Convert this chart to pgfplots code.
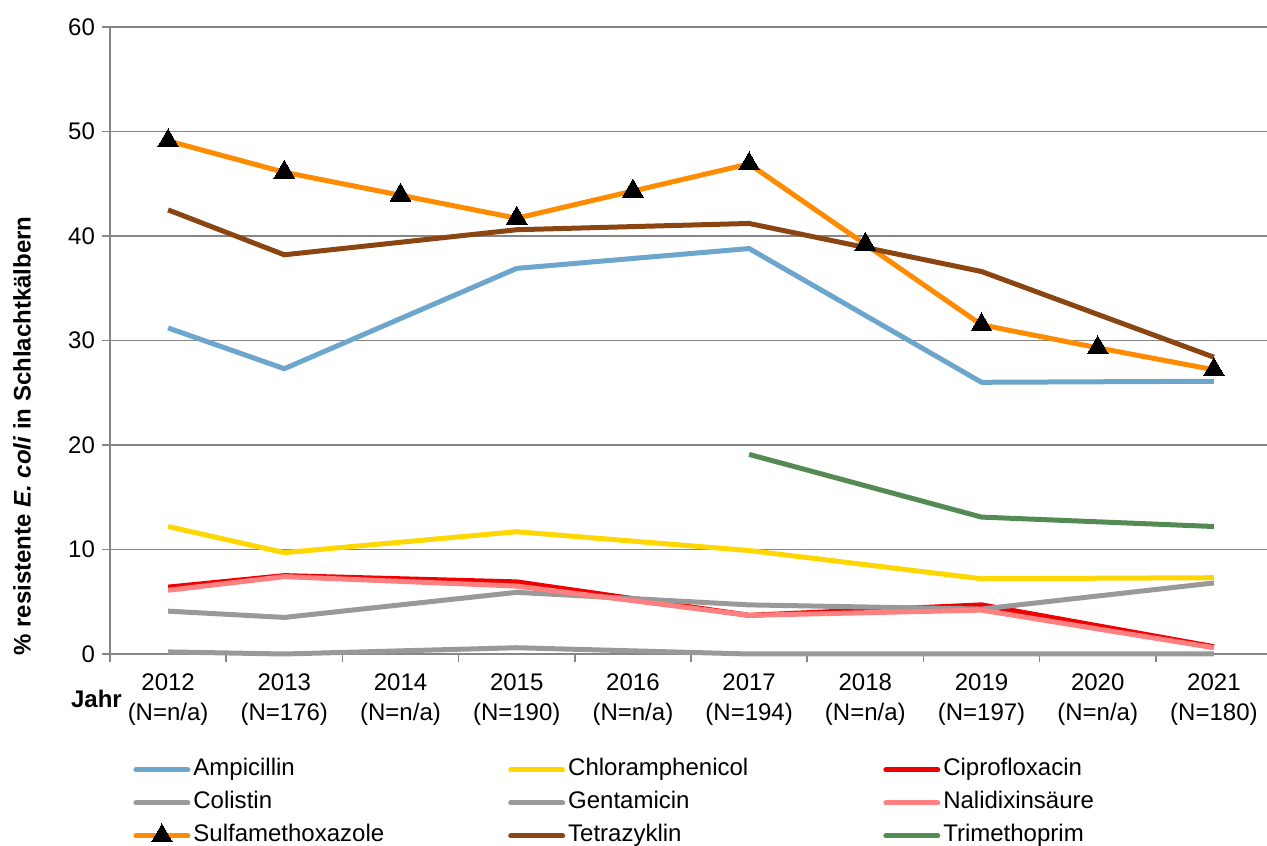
\documentclass[border=0pt]{standalone}
\usepackage{fontspec}
\setmainfont{Liberation Sans}
\usepackage{pgfplots}
\pgfplotsset{compat=1.18}
\definecolor{ampi}{RGB}{108,166,205}
\definecolor{chlor}{RGB}{255,215,0}
\definecolor{cipro}{RGB}{240,0,0}
\definecolor{coli}{RGB}{153,153,153}
\definecolor{genta}{RGB}{153,153,153}
\definecolor{nali}{RGB}{255,128,128}
\definecolor{sulfa}{RGB}{255,140,0}
\definecolor{tetra}{RGB}{139,69,19}
\definecolor{trim}{RGB}{84,139,84}
\definecolor{axgray}{RGB}{134,134,134}
\begin{document}
\begin{tikzpicture}
\begin{axis}[
  at={(55pt,95.5pt)}, anchor=south west,
  scale only axis, width=578.5pt, height=313.5pt,
  xmin=-0.5, xmax=9.457, ymin=0, ymax=60,
  clip=false,
  font=\fontsize{12}{14}\selectfont,
  /pgf/number format/assume math mode=true,
  ytick={0,10,...,60},
  xtick={0,...,9},
  xticklabels={2012\\(N=n/a),2013\\(N=176),2014\\(N=n/a),2015\\(N=190),2016\\(N=n/a),2017\\(N=194),2018\\(N=n/a),2019\\(N=197),2020\\(N=n/a),2021\\(N=180)},
  xticklabel style={align=center, font=\fontsize{12}{15}\selectfont, yshift=-2.5pt},
  yticklabel style={font=\fontsize{12}{14}\selectfont},
  minor xtick={-0.5,0.5,...,9.5},
  major x tick style={draw=none},
  minor x tick style={axgray, line width=0.75pt},
  major tick length=4pt, minor tick length=4pt,
  tick align=outside,
  y tick style={axgray, line width=0.75pt},
  axis x line*=bottom, axis y line*=left,
  axis line style={axgray, line width=0.75pt},
  ymajorgrids, grid style={axgray, line width=0.75pt},
  ylabel={\bfseries\% resistente \textit{E. coli} in Schlachtkälbern},
  ylabel style={at={(axis description cs:-0.076,0.3477)}, anchor=center, font=\fontsize{12}{14}\selectfont},
  every axis plot/.append style={line width=2.5pt, line join=round},
  legend columns=3,
  legend cell align=left,
  legend style={at={(axis description cs:0.0199,-0.1652)}, anchor=north west, draw=none, fill=none, inner sep=0pt,
    font=\fontsize{12}{14}\selectfont,
    nodes={inner sep=0pt, text height=9pt, text depth=3pt},
    row sep=4.5pt,
    /tikz/every odd column/.append style={column sep=1.5pt},
    /tikz/column 2/.style={column sep=62pt},
    /tikz/column 4/.style={column sep=67.5pt}},
  legend image code/.code={\draw[mark repeat=2,mark phase=2,line cap=round,#1] plot coordinates {(0pt,0pt) (13pt,0pt) (26pt,0pt)};},
]
\addplot[ampi] coordinates {(0,31.2)(1,27.3)(3,36.9)(5,38.8)(7,26.0)(9,26.1)};
\addlegendentry{Ampicillin}
\addplot[chlor] coordinates {(0,12.2)(1,9.7)(3,11.7)(5,9.9)(7,7.2)(9,7.3)};
\addlegendentry{Chloramphenicol}
\addplot[cipro] coordinates {(0,6.4)(1,7.5)(3,6.9)(5,3.7)(7,4.7)(9,0.7)};
\addlegendentry{Ciprofloxacin}
\addplot[coli] coordinates {(0,0.2)(1,0.0)(3,0.6)(5,0.0)(7,0.0)(9,0.0)};
\addlegendentry{Colistin}
\addplot[genta] coordinates {(0,4.1)(1,3.5)(3,5.9)(5,4.7)(7,4.3)(9,6.8)};
\addlegendentry{Gentamicin}
\addplot[nali] coordinates {(0,6.1)(1,7.4)(3,6.5)(5,3.7)(7,4.2)(9,0.6)};
\addlegendentry{Nalidixinsäure}
\addplot[sulfa, mark=triangle*, mark size=6pt, mark options={fill=black, draw=black, solid, line width=0pt}] coordinates {(0,49.1)(1,46.1)(2,43.9)(3,41.7)(4,44.3)(5,46.9)(6,39.2)(7,31.5)(8,29.3)(9,27.2)};
\addlegendentry{Sulfamethoxazole}
\addplot[tetra] coordinates {(0,42.5)(1,38.2)(3,40.6)(5,41.2)(7,36.6)(9,28.4)};
\addlegendentry{Tetrazyklin}
\addplot[trim] coordinates {(5,19.1)(7,13.1)(9,12.2)};
\addlegendentry{Trimethoprim}
\node[font=\fontsize{12}{14}\selectfont\bfseries, anchor=center] at (axis description cs:-0.0117,-0.0718) {Jahr};
\end{axis}
\pgfresetboundingbox
\useasboundingbox (0,0) rectangle (633.5pt,422.5pt);
\end{tikzpicture}
\end{document}
